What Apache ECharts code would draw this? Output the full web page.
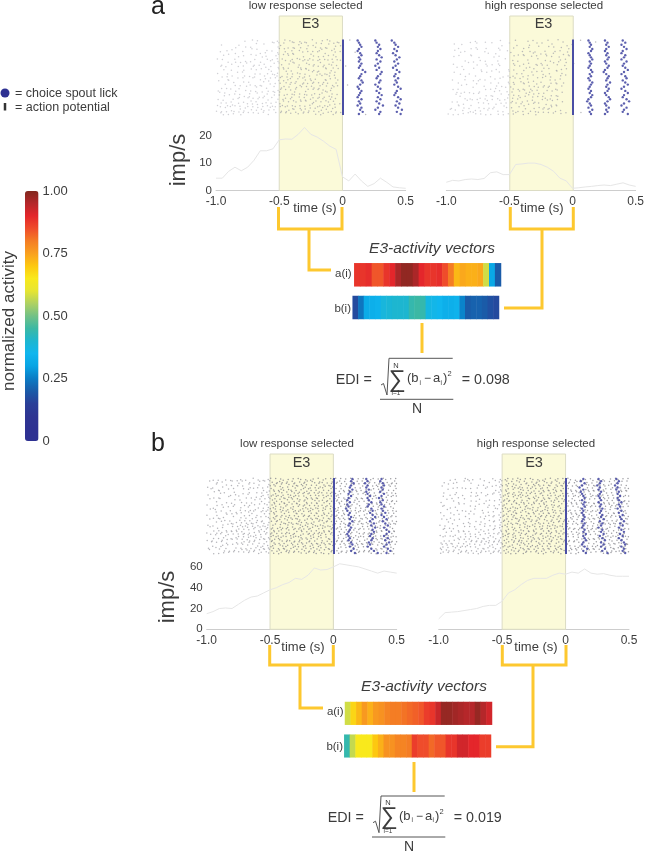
<!DOCTYPE html>
<html>
<head>
<meta charset="utf-8">
<style>html,body{margin:0;padding:0;background:#fff}#c{width:647px;height:853px}</style>
<script src="https://cdn.jsdelivr.net/npm/echarts@6/dist/echarts.min.js"></script>
</head>
<body>
<div id="c"></div>
<script>
// ---- time axis shared by all panels (s)
const timeBins = [-1,-0.95,-0.9,-0.85,-0.8,-0.75,-0.7,-0.65,-0.6,-0.55,-0.5,-0.45,-0.4,-0.35,-0.3,-0.25,-0.2,-0.15,-0.1,-0.05,0,0.05,0.1,0.15,0.2,0.25,0.3,0.35,0.4,0.45,0.5];
const timeTickLabels = {'-1':'-1.0','-0.5':'-0.5','0':'0','0.5':'0.5'};
const activityLabels = [0,0.25,0.5,0.75,1];

// ---- firing rates (imp/s)
const rateALow  = [4.5,4.5,7,8.5,7.2,8.5,11,14.5,14.5,15.2,18.5,18.8,18.7,20.5,23,20.5,19.5,18,16.2,15,5,3.5,6,3.5,1.5,2.5,4.5,3,1.3,1,0.8];
const rateAHigh = [3,3.7,3.5,4,4.2,4,4.4,6.5,6.8,5.8,5.8,9.5,9.7,10,10,9.5,8.5,7,4.5,3.5,0.8,1,1.3,1.5,1.8,2,1.8,2.3,2.8,2,1.5];
const rateBLow  = [15,17,20,20.5,20,24,28,31,32,35,38,40,43,45,49,48,52,59,57,57.5,60,63,62,61,60,58,56,54,56,55,54];
const rateBHigh = [10,16,16.5,17,18,19,20,22,23,23,27,35,38,43,47,49,49,49,52,54,53,55,54,58,54,53,53.5,52,51,51,51];

// ---- E3-activity vectors
const vecAa = [.88,.88,.89,.84,.84,.88,.9,.96,.985,.985,.96,.9,.88,.88,.89,.85,.8,.72,.74,.73,.73,.74,.58,.31,.2];
const vecAb = [.17,.24,.32,.33,.34,.38,.39,.4,.4,.4,.44,.45,.44,.37,.36,.35,.33,.33,.34,.26,.2,.21,.21,.2,.18,.17];
const vecBa = [.58,.68,.72,.76,.73,.76,.77,.79,.8,.8,.81,.82,.83,.84,.87,.88,.93,.98,.98,.97,.96,.95,.95,.98,.95,.92];
const vecBb = [.44,.57,.65,.65,.65,.7,.73,.77,.77,.79,.79,.8,.87,.85,.85,.82,.84,.84,.88,.88,.92,.92,.9,.9,.87,.87];
const activityColors = ['#2e3192','#2e3192','#2e3592','#2a3f98','#1a5ba8','#0b7cc5','#08a4e4','#10b6ee','#1db6d0','#3bb8a4','#72c186','#aed163','#e6e532','#f9e91c','#fdc810','#f9a01f','#f47d24','#ef4c2b','#e4262b','#b5272a','#82281f'];

// ---- lick times (s after choice), one per trial, three bouts per panel
const licksALow = [
 [.12,.13,.14,.15,.13,.12,.14,.15,.13,.14,.13,.15,.14,.13,.16,.18,.15,.14,.13,.15,.16,.14,.12,.13,.15,.14,.13,.12,.15,.13,.14,.12,.15,.14,.16,.13],
 [.26,.27,.29,.28,.3,.28,.27,.29,.31,.27,.3,.28,.26,.29,.27,.31,.3,.28,.27,.3,.29,.26,.28,.3,.27,.29,.31,.28,.3,.27,.29,.32,.28,.26,.3,.29],
 [.39,.41,.42,.44,.41,.43,.4,.42,.45,.43,.41,.44,.42,.4,.43,.45,.42,.41,.44,.42,.43,.41,.44,.46,.43,.42,.41,.44,.46,.43,.45,.42,.44,.47,.43,.46]];
const licksAHigh = [
 [.12,.13,.14,.13,.15,.14,.12,.13,.14,.15,.13,.14,.13,.12,.14,.15,.13,.14,.12,.13,.15,.14,.13,.12,.14,.13,.15,.14,.12,.11,.13,.14,.12,.15,.13,.14],
 [.25,.27,.26,.28,.26,.25,.27,.26,.28,.27,.25,.26,.28,.27,.25,.24,.26,.28,.27,.26,.29,.27,.26,.28,.27,.25,.26,.28,.29,.27,.25,.26,.28,.26,.27,.25],
 [.39,.41,.38,.4,.42,.39,.38,.41,.4,.38,.42,.4,.39,.41,.43,.4,.38,.41,.42,.39,.41,.43,.4,.38,.41,.43,.4,.39,.42,.44,.4,.38,.42,.4,.39,.43]];
const licksBLow = [
 [.15,.14,.16,.14,.13,.15,.13,.12,.14,.12,.11,.13,.11,.12,.1,.11,.13,.12,.14,.13,.15,.13,.12,.14,.13,.12,.11,.12,.13,.12,.14,.15,.13,.16,.14,.17],
 [.26,.27,.25,.27,.26,.28,.26,.27,.29,.27,.28,.3,.28,.27,.3,.31,.29,.31,.33,.31,.29,.32,.3,.33,.31,.32,.3,.29,.31,.3,.28,.29,.27,.3,.32,.35],
 [.38,.37,.39,.4,.38,.39,.37,.4,.38,.36,.39,.37,.38,.4,.38,.39,.41,.38,.4,.42,.39,.41,.43,.4,.42,.44,.42,.4,.43,.41,.44,.42,.4,.43,.45,.42]];
const licksBHigh = [
 [.14,.12,.15,.13,.11,.14,.12,.13,.14,.15,.13,.15,.14,.15,.13,.14,.13,.14,.15,.14,.13,.15,.14,.13,.15,.14,.16,.14,.15,.16,.14,.13,.15,.17,.14,.16],
 [.26,.28,.27,.25,.27,.26,.28,.27,.26,.27,.28,.26,.28,.27,.29,.28,.27,.29,.28,.3,.27,.29,.28,.26,.29,.28,.3,.27,.29,.31,.28,.3,.28,.31,.29,.33],
 [.4,.42,.41,.39,.41,.4,.42,.41,.43,.41,.42,.44,.42,.43,.41,.44,.42,.45,.43,.44,.46,.43,.45,.42,.44,.46,.43,.45,.42,.44,.46,.47,.44,.46,.45,.47]];

// ---- spike rasters: one string per trial, 'o' = spike in a 1.5/76 s bin
const spikesALow = [
"...........o..o.o.....o.o..o.oo..o.o..o...o.oo..o....o",
"..o......o......o..o...o.o.o...o.oo.o...o.o..o.o.o",
".......o...o.o..........oo..o.o..o..o.oo.o.o...o.o",
"....o.o.......o.o...o.o..o.o..oo.o..o....oo.o.oo...",
".o.....o..o......o.o....o..oo.o...o.o.o.o..o...o.o.....o",
"...o.o...o.o..o.o...o...oo.o.o.o...o..oo.o.o.o.oo",
"o.o....o.......o..o.o.o.o.o...o.oo.o.o...o.o..o.o",
"....o..o.o.o.o...o...o..o..o.oo...o.o.o.oo..o.o..o",
"..o...o.....o..o.o.o...o.oo..o.o.o..oo.o...o.oo.o",
".o.o....o.o...o....o.o..o.o.o...oo.o..o.o.oo..o.o..o",
"...o..o....o..o.o.o..oo..o.oo.o...o.oo.o.o..o.o",
"o...o...o.o....o.o..o.o.o...o.o.oo.o..o.oo.o.o.o",
"..o.o.o....o.o.o...o...oo.o.o.o..o.o.o..o.o.oo.o",
"....o...o.o...o..o.o.o.o.o..oo..o.oo.o.o...o.o.oo",
".o...o.o...o.o.....o.o...o.oo.o.o..o..oo.o.oo...o",
"...o...o.o...o.o.o...o.o.o...o.o.oo.o.o..oo.o.o.o...o",
"..o.o....o..o...o.o.o..o..oo.o..o.o.o.oo.o..o.oo",
"o....o.o...o.o.o....o.o.oo.o.o.o...oo.o.o.oo.o",
".o.o...o.o...o..o.o.o..o.o..o.oo.o.o...o.oo.o.o.o",
"...o.o...o.o.o...o.o..oo.o.o..oo.o.oo.o..o.o.oo",
"o.o...o.o...o.o.o.o.o...o.oo.o...o.o.oo.o.o..o.o",
"..o.o.o..o.o..o.o...o.o.o..o.o.oo.o.o..oo.o.oo.o",
"o...o.oo.o..o.o.o.o.o.o..oo.o.o..o.o.oo..o.o.o.o.o",
".o.o.o...o.oo.o.o.o..o.o.o.o..oo.o.o.o.oo.o.o.oo",
"o.o.o.oo.o.o..o.o.oo.o.o..o.oo.o..oo.o.o.oo.o.o.o",
".oo.o.o..oo.o.o.o.o.o..o.o.o.o.oo.o.o..o.oo.o.oo.o.........o"];
const spikesAHigh = [
".........o.o...o.....o.....o....o.o.....o...o.o......o.....o",
"...o..o.....o.....o...o..o..o....o..o.o...o.....o.o",
"....o....o.o...o....o.....o...o.o...o...o.o..o..o",
"...o...o....o..o.....o..o.....o..o.o...o...o.o..o",
".....o...o......o..o.....o..o.o...o..o.o..o...o.o",
"...o.o....o..o.....o.o.....o...o..o.o...o.o..o...o",
".......o.....o.o....o..o..o.o...o...o..o.o...o.o",
"..o.....o.o....o....o.....o...o.o..o.o....o.o..o..o",
"....o.o.....o...o.o..o.....o.o...o..o.o.o...o..o",
"......o...o..o.....o....o.o...oo..o...o.o..o.o.o",
"...o.....o....o.o.o..o...o..o.o...o.o.o..o..o.o",
".....o.o...o.....o....o.o.o...o.o.o...oo.o...o.o",
"..o....o.....o.o...o.o...o.o.o..o...o.o..o.o.o",
"....o.....o.o....o..o...o.o..oo.o.o..o...o.o..o",
"......o.o...o..o....o.o..o.o...o.o.oo..o.o..o.o",
"..o.o.....o....o.o.o...o.oo.o.o..o..o.o.o..o",
"....o..o.o...o.....o.o..o.o..o.o.oo.o...o.o.o.o",
"...o.o....o.o..o.o...o..o.o.o..oo.o.o.o..o.o",
".....o.o.o...o.o..o.o...o.o.oo.o..o.o.oo.o..o",
"..o.o...o.o.o...o.o..o.o..o...o.o.oo..o.o.o.o.o",
"....o.o..o..o.o.o..o.o.o.o.o.o..o.o.o..o.o.o",
"..o..o.o.o...o.o.o.o...oo.o..o.o...o.o.o.oo.o",
".o.o..o..o.o.o..o.o.o.o...o.o.oo.o.o..o.o..o.o",
"o.o.o.o.o.oo.o.o.o..o.o.o.oo..o.o..oo.o.o.o..o.o.....o"];
const spikesBLow = [
"..o.o..o.o...o.o..o.o.o.oo.o.oo.o.o.oo.o.oo.o.oo.ooo.o.o.oo.o.o..oo.o.oo.o.o",
".o..o.o...o.o.o..o...o.o.oo.ooo.o.oo.o.oo.oo.oo.o.o.oo.o..o.o.o.oo.o.o..o.oo",
"...o...o.o..o...o.o.o...o.oo.o.oo.oo.ooo.o.oo.o.oo.o.o.o.oo.o.o.o..oo.o.oo.o",
"o.o...o.....o.o..o..o.o.oo.o.oo.o.ooo.oo.o.o.ooo.oo..o.o.o.o.oo.o.o.o.o..o.o",
".o..o...o.o...o.o.o...o..oo.ooo.oo.o.oo.oo.oo.o.oo.o.oo.o..o.o.o.oo.o.o.o.oo",
"...o.o.o...o.....o..o.o.oo.o.oo.o.oo.o.ooo.o.oo.o.oo.o.o.oo.o..o.o.o.oo.o.o.",
"o....o...o.o..o.o.....o.o.ooo.o.oo.oo.o.oo.oo.o.oo.ooo..o.o.o.oo.o.o..o.o.oo",
"..o.o...o...o..o.o.o.o..oo.o.oo.ooo.o.oo.o.oo.oo.o.oo.o.oo.o.o..o.oo.o.o.o.o",
".o...o.....o.o.....o.o.o.ooo.o.oo.o.oo.oo.ooo.o.oo.oo..o.o.oo.o.o.o..oo.o.o.",
"...o...o.o...o.o.o...o..o.oo.oo.o.ooo.oo.o.oo.oo.o.ooo.o..o.o.o.oo.o.o.o.o.o",
"o...o.o....o...o.o.o.o.oo.oo.o.oo.o.oo.ooo.oo.o.oo.o.o.oo.o.oo..o.o.oo.o.o.o",
"..o...o.o.o..o..o...o.o.o.oo.ooo.oo.o.oo.o.oo.oo.oo.oo.o.o.o.o.oo.o.o..o.oo.",
".o.o.....o...o.o.o.o..o.oo.o.oo.o.oo.oo.ooo.o.oo.o.oo.o.oo.o.o.o.o.oo.o.o.o.",
"...o.o.o...o.o..o.o..o.o.ooo.o.oo.ooo.o.oo.oo.o.oo.oo.o..o.oo.o.o..o.oo.o.oo",
"o...o...o.o.o..o.oo.o..o.o.oo.oo.o.oo.oo.o.oo.ooo.o.o.oo.o.o.o.oo.o.o.o.o.o.",
"..o.o.o...o..o.o...o.o.oo.oo.o.ooo.oo.o.oo.oo.o.oo.oo.o.o.oo.o.o.o.oo.o.oo.o",
".o...o.o.o...o.o.oo.o.o..o.ooo.oo.o.oo.oo.o.ooo.oo.o.o.o.o.o.oo.o.o..oo.o.o.",
"...o.o...o.o.o.o.o.o.oo.oo.o.oo.oo.ooo.o.oo.o.oo.ooo.oo.o.o.oo.o.o.oo.o.o.oo",
"o.o...o.o.o..o.oo.o.o.o.o.oo.o.oo.o.oo.oo.oo.oo.o.oo.o.o.oo.o.o.oo.o.o.o.o.o",
".o..o.o...o.o.o.o.oo.o.oo.o.ooo.o.oo.oo.ooo.o.oo.oo.oo.o.o.o.oo.o.o.oo.o.oo.",
"..o.o..o.o.oo.o.o.o.oo.o.oo.oo.oo.o.ooo.oo.oo.o.oo.o.o.oo.o.o.o.oo.o.o.oo.o.",
"o...o.o.o.o.o.oo.o.o.o.oo.ooo.o.oo.oo.o.oo.o.ooo.oo..o.o.oo.oo.o.o.oo.o.o.oo",
".o.o.o.oo.o.o.o.oo.o.o.o.oo.o.oo.ooo.oo.ooo.oo.o.oo.oo.o.o.o.oo.o.oo.o.oo.o.",
"..o.o.o..o.oo.o.o.oo.oo.oo.ooo.o.oo.oo.o.oo.oo.oo.o.o.oo.oo.o.o.o.oo.o.o.o.o",
"o.o...o.o.o.o.o.oo.o.o.o.ooo.oo.oo.o.oo.oo.oo.o.oo.oo.o.o.o.oo.oo.o.o.oo.oo.",
".o.o.o.o...o.oo.o.o.o.oo.oo.o.oo.oo.oo.ooo.o.oo.oo.o.oo.oo.o.o.o.oo.oo.o.o.o",
"..o...o.o.o.o.o.o.o.o.o.o.oo.oo.o.ooo.oo.oo.oo.o.ooo.o.o.o.oo.o.o.o.o.oo.o.o",
"o..o.o.o...o.o.o.o.o.oo.ooo.o.oo.oo.o.oo.oo.oo.oo.o.oo.o.oo.o.o.oo.o.o.o.oo.",
".o...o.o.o.o..o.oo.o.o.o.oo.oo.ooo.oo.oo.o.ooo.o.oo.o.o.o.o.oo.o.o.oo.o.o.o.",
"..o.o.o.o.o.o.o.o.o.oo.oo.o.oo.oo.o.oo.oo.oo.oo.ooo.oo.o.o.oo.o.oo.o.oo.o.o."];
const spikesBHigh = [
"....o.o...oo.o..o....oo.o.oo.o.oo.o.oo.o.oo.o.oo.o.oo.o.o.o.oo.o.o..o.oo.o.o",
"..o....o..o.o.....o.o...oo.o.o.oo.oo.o.oo.oo.o.oo.o.o.oo.o.o.o.oo.o.o.o..o.o",
"...o.o......o..o.o....o.o.oo.oo.o.oo.ooo.o.oo.o.oo.o..o.o.oo.o.o.o.oo.o.o.o.",
".o.....o.o.....o...o.o..oo.o.oo.oo.o.oo.oo.oo.oo.o.o.o.o.o.o.oo.o.o..o.oo.o.",
"...o.o....o.o.....o...o.o.oo.o.ooo.oo.o.oo.o.oo.oo.oo.o.o.oo.o.o.oo.o.o.o.oo",
"..o....o.....o.o.o....o.oo.oo.o.oo.o.oo.ooo.o.oo.o.o.o.oo.o.o.o.o.oo.o.o.o.o",
"....o.o..o.....o...o.o..o.oo.oo.oo.oo.o.oo.oo.o.oo.o.oo.o.o.oo.o.o.o.o.oo.o.",
".o.....o....o.o...o.....oo.o.o.oo.oo.ooo.o.oo.oo.o.o.o.o.oo.o.o.oo.o.o.o.o.o",
"...o.o....o.....o...o.o.o.ooo.oo.o.oo.oo.oo.o.oo.oo..oo.o.o.o.o.o.oo.o.oo.o.",
"o....o.o....o.o...o.....oo.o.oo.oo.o.oo.ooo.oo.o.o.oo.o.o.oo.o.o.o.o.o.o.o.o",
"..o.....o.o.....o.o.o.o.o.oo.o.oo.oo.oo.o.oo.oo.oo.o.o.o.o.o.oo.o.o.oo.o.o.o",
".o..o.o.....o.o....o..o..oo.ooo.o.oo.o.oo.oo.o.oo.oo.o.oo.o.o.o.o.o.o.o.oo.o",
"...o...o.o....o..o.....o.o.oo.oo.oo.oo.o.ooo.oo.o.o.o.o.o.oo.o.oo.o.o.o.o.o.",
"o...o.....o.o....o.o.o..oo.o.oo.o.oo.oo.oo.o.oo.oo.oo.o.o.o.o.o.o.oo.o.o.oo.",
"..o...o.o...o.o.....o.o.o.oo.ooo.o.oo.o.oo.oo.o.oo.o.o.oo.o.oo.o.o.o.oo.o.o.",
"....o.....o.....o.o..o..oo.o.oo.oo.oo.ooo.o.oo.oo.o.oo.o.o.o.o.oo.o.o.o.o.oo",
".o.o..o.o...o.....o.o.o.o.oo.o.oo.o.oo.oo.oo.o.oo.oo.o.o.oo.o.o.o.oo.o.o.o.o",
"...o.....o.o..o.o....o..oo.oo.oo.oo.o.oo.o.ooo.o.o.o.oo.o.o.oo.o.o.o.oo.o.o.",
"o.o..o.o....o...o.o.o.o.o.oo.o.oo.oo.oo.oo.o.oo.oo.o.o.o.o.o.o.oo.o.o.o.oo.o",
"..o.o.....o.o.o...o...o.oo.o.oo.o.ooo.o.oo.oo.oo.o.oo.o.oo.o.o.o.o.oo.o.o.o.",
".o...o.o.o....o.o..o.o..o.oo.oo.oo.o.oo.oo.oo.o.oo.o.o.o.o.oo.o.o.oo.o.o.o.o",
"...o.o..o.o.o...o.o.o.o.oo.oo.o.oo.oo.oo.o.ooo.oo.oo.o.oo.o.o.o.o.oo.o.oo.o.",
"o.o.o.o...o.o.o.o.o.o..o.ooo.oo.o.oo.oo.oo.oo.o.oo.o.o.o.oo.o.oo.o.o.o.o.oo.",
".o...o.oo.o.o.oo.o.o.oo.oo.o.oo.oo.ooo.o.oo.oo.oo.oo.o.o.o.o.o.o.oo.o.oo.o.o",
"..o.o.o.o.o.oo.o.oo.o.o.o.oo.oo.oo.o.oo.oo.ooo.o.oo.o.oo.o.oo.o.o.o.oo.o.o.o",
"o.o.o..o.oo.o.o.o.oo.o.oo.oo.o.ooo.oo.oo.o.oo.oo.o.o.o.o.o.o.oo.oo.o.o.oo.o.",
".o.o.o.o.o.oo.o.o.o.oo.o.oo.oo.oo.oo.o.ooo.oo.o.oo.oo.o.oo.o.o.o.oo.o.o.o.oo",
"oo.o.oo.o.o.o.oo.o.o.oo.oo.o.oo.oo.oo.oo.o.oo.ooo.o.o.oo.o.o.oo.o.o.oo.o.oo.",
".o.oo.o.oo.o.o.o.oo.o.o.o.oo.oo.o.ooo.oo.oo.o.oo.oo.oo.o.o.oo.o.oo.o.oo.o.o.",
"oo.o.o.oo.oo.o.oo.o.oo.oo.ooo.oo.oo.o.oo.oo.oo.oo.o.o.oo.oo.o.o.oo.oo.o.oo.o"];
// sub-bin placement of the estimated spikes, in bins (by trial) and in trials (by time bin)
const trialPhase = [.1,-.3,.4,-.1,.25,-.45,.05,.35,-.2,.45,-.35,.15,-.05,.3,-.4,.2,-.25,.4,0,-.15,.35,-.45,.1,.25,-.3,.45,-.1,.2,-.4,.3];
const binPhase = [.2,-.3,.4,-.1,.35,-.45,.05,.3,-.2,.45,-.35,.1,-.4];

// ---- layout / style
const INK = '#3c3c3c', AXIS = '#cdcdcd', RATE = '#e6e6e6', GOLD = '#fdc82f', LICK = '#4a4ea5', FONT = '"Liberation Sans",Arial,sans-serif';
const H = 853, W = 647;
const panels = [
  {x0:216,   x1:405.7, band:16,  rTop:39.5, rBot:115, y0:190.5, yTop:122, max:25, ticks:[0,10,20],    labels:true,  rate:rateALow,  spikes:spikesALow,  licks:licksALow,  dotL:'#c8c8ce', dotR:'#aeaeb2'},
  {x0:446.3, x1:636.7, band:16,  rTop:39.5, rBot:115, y0:190.5, yTop:122, max:25, ticks:[0,10,20],    labels:false, rate:rateAHigh, spikes:spikesAHigh, licks:licksAHigh, dotL:'#c8c8ce', dotR:'#aeaeb2'},
  {x0:206.7, x1:396.7, band:454, rTop:478,  rBot:554, y0:629.3, yTop:561.7, max:65, ticks:[0,20,40,60], labels:true,  rate:rateBLow,  spikes:spikesBLow,  licks:licksBLow,  dotL:'#a8a8ae', dotR:'#8c8c92'},
  {x0:438.7, x1:629,   band:454, rTop:478,  rBot:554, y0:629.3, yTop:561.7, max:65, ticks:[0,20,40,60], labels:false, rate:rateBHigh, spikes:spikesBHigh, licks:licksBHigh, dotL:'#a8a8ae', dotR:'#8c8c92'}
];
const grid = [], xAxis = [], yAxis = [], series = [], heatIdx = [];
function addGrid(l, r, t, b) {
  grid.push({left:l, top:t, width:r-l, height:b-t, containLabel:false});
  return grid.length - 1;
}
const hiddenX = g => ({type:'value', gridIndex:g, min:-1, max:0.5, show:false});
const hiddenY = (g, inv) => ({type:'value', gridIndex:g, min:0, max:1, show:false, inverse:!!inv});

panels.forEach(p => {
  // E3 window
  let g = addGrid(p.x0, p.x1, p.band, p.y0);
  xAxis.push(hiddenX(g)); yAxis.push(hiddenY(g));
  series.push({type:'line', xAxisIndex:xAxis.length-1, yAxisIndex:yAxis.length-1, data:[], silent:true, z:1,
    markArea:{silent:true, itemStyle:{color:'#fbfad9', borderColor:'#dcdcc4', borderWidth:1}, data:[[{xAxis:-0.5},{xAxis:0}]]}});
  // raster
  g = addGrid(p.x0, p.x1, p.rTop, p.rBot);
  xAxis.push(hiddenX(g)); yAxis.push(hiddenY(g, true));
  const pts = [], N = p.spikes.length;
  p.spikes.forEach((row, r) => { for (let c = 0; c < row.length; c++) if (row[c] === 'o')
    pts.push([Math.min(0.5, -1 + (c + 0.5 + trialPhase[r]) * 1.5 / 76), (r + 0.5 + binPhase[c % binPhase.length]) / N]); });
  series.push({type:'scatter', xAxisIndex:xAxis.length-1, yAxisIndex:yAxis.length-1, data:pts, symbolSize:1.5, silent:true, z:3,
    itemStyle:{color:q => q.value[0] < -0.5 ? p.dotL : p.dotR, opacity:0.85}});
  const lk = [];
  p.licks.forEach(b => b.forEach((t, i) => lk.push([t, (i + 0.5) / b.length])));
  series.push({type:'scatter', xAxisIndex:xAxis.length-1, yAxisIndex:yAxis.length-1, data:lk, symbolSize:2.4, silent:true, z:4,
    itemStyle:{color:LICK, opacity:0.9},
    markLine:{silent:true, symbol:'none', label:{show:false}, animation:false, lineStyle:{color:LICK, width:2, type:'solid'}, data:[{xAxis:0}]}});
  // rate
  g = addGrid(p.x0, p.x1, p.yTop, p.y0);
  xAxis.push({type:'value', gridIndex:g, min:-1, max:0.5, interval:0.5, splitLine:{show:false}, axisTick:{show:false},
    axisLine:{lineStyle:{color:AXIS, width:1}},
    axisLabel:{color:INK, fontSize:12, fontFamily:FONT, margin:5, hideOverlap:false, showMinLabel:true, showMaxLabel:true, formatter:v => timeTickLabels[String(v)]}});
  yAxis.push({type:'value', gridIndex:g, min:0, max:p.max, splitLine:{show:false},
    axisLine:{show:true, lineStyle:{color:AXIS, width:1}},
    axisTick:{show:true, length:2, lineStyle:{color:AXIS}, customValues:p.ticks},
    axisLabel:{show:p.labels, color:INK, fontSize:11.5, fontFamily:FONT, margin:4, customValues:p.ticks}});
  series.push({type:'line', xAxisIndex:xAxis.length-1, yAxisIndex:yAxis.length-1, data:timeBins.map((t,i)=>[t,p.rate[i]]),
    showSymbol:false, silent:true, z:3, lineStyle:{color:RATE, width:1}});
});

// activity vectors
function addVec(vals, l, r, t, b) {
  const g = addGrid(l, r, t, b);
  xAxis.push({type:'category', gridIndex:g, data:vals.map((_,i)=>i), show:false});
  yAxis.push({type:'category', gridIndex:g, data:['v'], show:false});
  heatIdx.push(series.length);
  series.push({type:'heatmap', xAxisIndex:xAxis.length-1, yAxisIndex:yAxis.length-1, data:vals.map((v,i)=>[i,0,v]), silent:true, progressive:0});
}
addVec(vecAa, 354.3, 501, 263.3, 286.3);
addVec(vecAb, 352.7, 499, 296, 319);
addVec(vecBa, 345, 492, 702, 724.7);
addVec(vecBb, 344.3, 491, 734.7, 757.3);

// colour bar scale (the bar itself is the visualMap below)
{
  const g = addGrid(25, 38.5, 191, 441);
  xAxis.push({type:'value', gridIndex:g, show:false, min:0, max:1});
  yAxis.push({type:'value', gridIndex:g, position:'right', min:0, max:1, z:10, splitLine:{show:false}, axisLine:{show:false},
    axisTick:{show:false},
    axisLabel:{color:INK, fontSize:13, fontFamily:FONT, margin:4, customValues:activityLabels, formatter:v => v === 0 ? '0' : v.toFixed(2)}});
}

// annotations
const T = (x, y, text, o={}) => ({type:'text', x, y, rotation:o.rot||0, silent:true, z:20, style:{text, fill:o.fill||INK,
  font:`${o.italic?'italic ':''}${o.size||12}px ${FONT}`, align:o.align||'center', verticalAlign:'middle'}});
const P = (pts, o={}) => ({type:'polyline', silent:true, z:o.z||15, shape:{points:pts}, style:{stroke:o.stroke||GOLD, lineWidth:o.w||3, fill:null}});
const g = [];
// legend
g.push({type:'circle', silent:true, shape:{cx:5, cy:93, r:4.5}, style:{fill:'#2e3192'}});
g.push(P([[5,103],[5,110.5]], {stroke:'#333', w:2.5}));
g.push(T(15, 94, '= choice spout lick', {align:'left', size:12.5}));
g.push(T(15, 108, '= action potential', {align:'left', size:12.5}));
g.push(T(9, 321, 'normalized activity', {size:17, rot:Math.PI/2}));
// panel letters
g.push(T(158, 7, 'a', {size:25, fill:'#222'}));
g.push(T(158, 444, 'b', {size:25, fill:'#222'}));
// panel titles and labels
[[305.7,5.5,'low response selected'],[544,5.5,'high response selected'],[297,444,'low response selected'],[536,444,'high response selected']]
  .forEach(a => g.push(T(a[0], a[1], a[2], {size:11.5})));
[[311,24],[544,24],[302,463],[534.5,463]].forEach(a => g.push(T(a[0]-0.5, a[1], 'E3', {size:14.5})));
[[315,208],[542,208],[303,647],[536,647]].forEach(a => g.push(T(a[0], a[1], 'time (s)', {size:13})));
g.push(T(179, 160, 'imp/s', {size:22, rot:Math.PI/2}));
g.push(T(168, 597, 'imp/s', {size:22, rot:Math.PI/2}));
// connectors, panel a
g.push(P([[278.5,207],[278.5,229],[342,229],[342,207]]));
g.push(P([[309,229],[309,270],[331,270]]));
g.push(P([[510.3,207],[510.3,229],[573.3,229],[573.3,207]]));
g.push(P([[542,229],[542,308],[504,308]]));
g.push(P([[422,323],[422,353]]));
// connectors, panel b
g.push(P([[269.7,645],[269.7,665],[333.3,665],[333.3,645]]));
g.push(P([[300,665],[300,708],[323,708]]));
g.push(P([[502.3,645],[502.3,665],[566,665],[566,645]]));
g.push(P([[533,665],[533,746.7],[496,746.7]]));
g.push(P([[414,762],[414,792]]));
// vector captions
g.push(T(432, 249, 'E3-activity vectors', {italic:true, size:15.5}));
g.push(T(424, 687, 'E3-activity vectors', {italic:true, size:15.5}));
[[351.7,274],[351,308.5],[343.5,712],[343,747]].forEach((a,i) => g.push(T(a[0], a[1], i%2?'b(i)':'a(i)', {align:'right', size:11.5})));
// EDI formulas
function edi(dx, dy, result) {
  const X = x => x + dx, Y = y => y + dy;
  g.push(T(X(335.7), Y(380), 'EDI =', {align:'left', size:14.3}));
  g.push(T(X(461.7), Y(380), '= ' + result, {align:'left', size:14.3}));
  g.push(P([[X(381),Y(385)],[X(383.5),Y(383.5)],[X(387),Y(395)],[X(389),Y(358.3)],[X(452.7),Y(358.3)]], {stroke:'#555', w:1}));
  g.push(P([[X(380),Y(399.3)],[X(453.3),Y(399.3)]], {stroke:'#555', w:1}));
  g.push(T(X(397), Y(380), '\u2211', {size:24}));
  g.push(T(X(396), Y(365.5), 'N', {size:7.5}));
  g.push(T(X(396), Y(393.5), 'i=1', {size:6.5}));
  g.push(T(X(407), Y(378.5), '(b', {align:'left', size:13}));
  g.push(T(X(419.5), Y(383), 'i', {align:'left', size:6.5}));
  g.push(T(X(424), Y(378.5), '\u2212', {align:'left', size:12}));
  g.push(T(X(433), Y(378.5), 'a', {align:'left', size:13}));
  g.push(T(X(440.5), Y(383), 'i', {align:'left', size:6.5}));
  g.push(T(X(443), Y(378.5), ')', {align:'left', size:13}));
  g.push(T(X(447.5), Y(374), '2', {align:'left', size:7.5}));
  g.push(T(X(417), Y(409), 'N', {size:14}));
}
edi(0, 0, '0.098');
edi(-8, 437.7, '0.019');

const chart = echarts.init(document.getElementById('c'), null, {renderer:'canvas', width:W, height:H});
chart.setOption({
  animation:false, backgroundColor:'#fff', tooltip:{show:false},
  grid, xAxis, yAxis, series,
  visualMap:{type:'continuous', show:true, min:0, max:1, seriesIndex:heatIdx, inRange:{color:activityColors},
    left:25, top:191, itemWidth:13.5, itemHeight:250, padding:0, text:null, calculable:false, hoverLink:false, showLabel:false, z:2},
  graphic:{elements:g}
});
</script>
</body>
</html>
